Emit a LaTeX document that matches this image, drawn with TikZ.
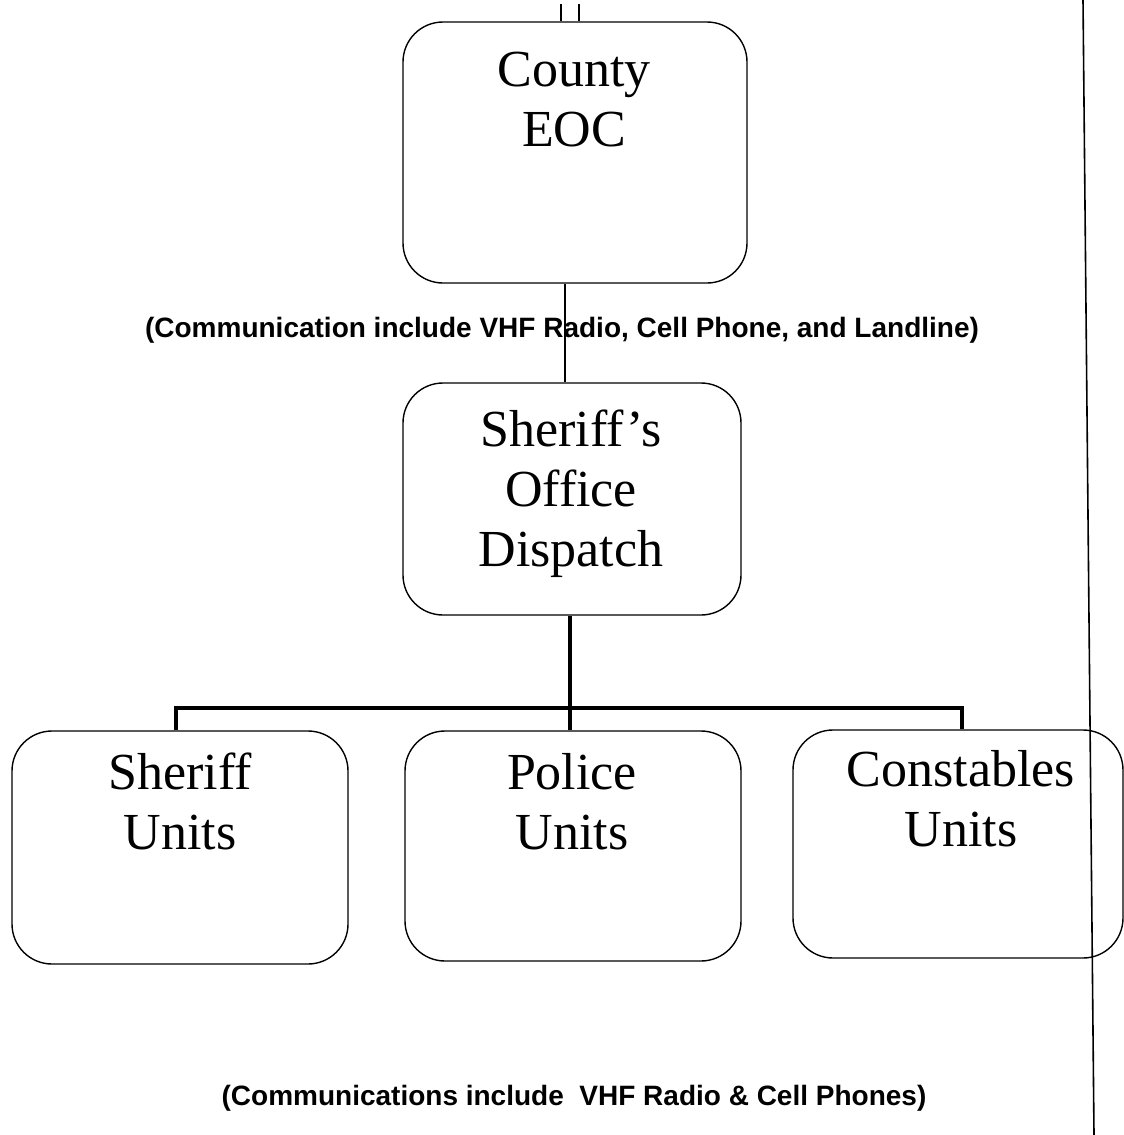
\documentclass[tikz,border=0pt]{standalone}
\usepackage{fontspec}
\setmainfont{Liberation Serif}
\newfontfamily\labelfont{Liberation Sans}
\begin{document}
\begin{tikzpicture}[x=1pt,y=-1pt,
  unitbox/.style={draw, line width=1.4pt, rounded corners=40pt, inner sep=0pt},
  boxtext/.style={anchor=north, align=center, inner sep=0pt, font=\fontsize{52}{60}\selectfont},
  commlabel/.style={inner sep=0pt, font=\labelfont\bfseries\fontsize{28}{32}\selectfont},
  conn/.style={line width=2.6pt},
  bus/.style={line width=4pt},
  edge/.style={line width=1.6pt}]
\useasboundingbox (0,0) rectangle (1124,1135);
% boxes
\node[unitbox, minimum width=344pt, minimum height=261pt] (eoc) at (575,152.5) {};
\node[unitbox, minimum width=338pt, minimum height=232pt] (sod) at (572,499) {};
\node[unitbox, minimum width=336pt, minimum height=233pt] (su) at (180,847.5) {};
\node[unitbox, minimum width=336pt, minimum height=230pt] (pu) at (573,846) {};
\node[unitbox, minimum width=330pt, minimum height=228pt] (cu) at (958,844) {};
% box texts
\node[boxtext] (eoct) at (574,52) {County\\EOC};
\node[boxtext] (sodt) at (571,410) {Sheriff’s\\Office\\Dispatch};
\node[boxtext] (sut) at (180,753) {Sheriff\\Units};
\node[boxtext] (put) at (572,753) {Police\\Units};
\node[boxtext] (cut) at (961,750) {Constables\\Units};
% top ticks
\coordinate (t1) at (561,4);
\coordinate (t2) at (579,4);
\draw[edge] (t1) -- (t1 |- eoc.north);
\draw[edge] (t2) -- (t2 |- eoc.north);
% EOC to dispatch
\coordinate (c1) at (565,0);
\draw[conn] (c1 |- eoc.south) -- (c1 |- sod.north);
\node[commlabel] (lab1) at (562,330) {(Communication include VHF Radio, Cell Phone, and Landline)};
% bus
\coordinate (b1) at (176,708);
\coordinate (b2) at (570,708);
\coordinate (b3) at (962,708);
\draw[bus] (b2 |- sod.south) -- (b2 |- pu.north);
\draw[bus] (b1 |- su.north) -- (b1) -- (b3) -- (b3 |- cu.north);
% right edge line
\coordinate (r1) at (1083,0);
\coordinate (r2) at (1094,1135);
\draw[edge] (r1) -- (r2);
\node[commlabel] (lab2) at (574,1098) {(Communications include \ VHF Radio \& Cell Phones)};
\end{tikzpicture}
\end{document}
